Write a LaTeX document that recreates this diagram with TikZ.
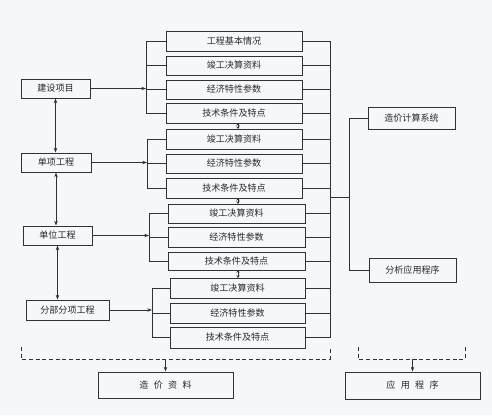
\documentclass[tikz,border=0pt]{standalone}
\usepackage{fontspec}
\newfontfamily\cjk{Noto Sans CJK SC}
\usetikzlibrary{arrows.meta}

\tikzset{every picture/.style={line width=0.75pt}}
\definecolor{linegray}{RGB}{50,50,50}
\definecolor{textgray}{RGB}{40,40,40}
\definecolor{paper}{RGB}{246,247,251}
\tikzset{
  box/.style={draw=linegray, rectangle, inner sep=0pt, text=textgray,
    font=\cjk\fontsize{6.8}{8}\selectfont},
  conn/.style={draw=linegray},
  tip/.style={-{Stealth[length=3.5pt,width=2.6pt]}},
  dtip/.style={{Stealth[length=3.5pt,width=2.6pt]}-{Stealth[length=3.5pt,width=2.6pt]}},
  stip/.style={{Stealth[length=2pt,width=2.6pt]}-{Stealth[length=2pt,width=2.6pt]}},
  dashbr/.style={draw=linegray, dash pattern=on 3pt off 2pt}
}

\begin{document}
\begin{tikzpicture}[x=0.75pt,y=0.75pt,yscale=-1,xscale=1]
  %set diagram size to 492 x 415
  \fill[paper] (0,0) rectangle (492,415);
  \useasboundingbox (0,0) rectangle (492,415);

  %Shape: Rectangle -- left column
  \node[box, minimum width=69*0.75pt, minimum height=19*0.75pt] (jsxm) at (55.5,88.5) {建设项目};
  \node[box, minimum width=70*0.75pt, minimum height=19*0.75pt] (dxgc) at (56,162.5) {单项工程};
  \node[box, minimum width=69*0.75pt, minimum height=19*0.75pt] (dwgc) at (57.5,235.5) {单位工程};
  \node[box, minimum width=83*0.75pt, minimum height=20*0.75pt] (fbfx) at (67.5,310) {分部分项工程};

  %Shape: Rectangle -- group 1
  \node[box, minimum width=136*0.75pt, minimum height=20*0.75pt] (ga1) at (234,41) {工程基本情况};
  \node[box, minimum width=136*0.75pt, minimum height=19*0.75pt] (ga2) at (234,65.5) {竣工决算资料};
  \node[box, minimum width=136*0.75pt, minimum height=19*0.75pt] (ga3) at (234,89.5) {经济特性参数};
  \node[box, minimum width=136*0.75pt, minimum height=20*0.75pt] (ga4) at (234,113) {技术条件及特点};
  %Shape: Rectangle -- group 2
  \node[box, minimum width=136*0.75pt, minimum height=20*0.75pt] (gb1) at (234,139) {竣工决算资料};
  \node[box, minimum width=136*0.75pt, minimum height=19*0.75pt] (gb2) at (234,163.5) {经济特性参数};
  \node[box, minimum width=136*0.75pt, minimum height=20*0.75pt] (gb3) at (234,188) {技术条件及特点};
  %Shape: Rectangle -- group 3
  \node[box, minimum width=137*0.75pt, minimum height=19*0.75pt] (gc1) at (236.5,213.5) {竣工决算资料};
  \node[box, minimum width=137*0.75pt, minimum height=20*0.75pt] (gc2) at (236.5,237) {经济特性参数};
  \node[box, minimum width=137*0.75pt, minimum height=18*0.75pt] (gc3) at (236.5,261) {技术条件及特点};
  %Shape: Rectangle -- group 4
  \node[box, minimum width=135*0.75pt, minimum height=20*0.75pt] (gd1) at (237.5,288) {竣工决算资料};
  \node[box, minimum width=135*0.75pt, minimum height=20*0.75pt] (gd2) at (237.5,313) {经济特性参数};
  \node[box, minimum width=135*0.75pt, minimum height=21*0.75pt] (gd3) at (237.5,337.5) {技术条件及特点};

  %Shape: Rectangle -- right column
  \node[box, minimum width=87*0.75pt, minimum height=22*0.75pt] (zjxt) at (411.5,118) {造价计算系统};
  \node[box, minimum width=87*0.75pt, minimum height=24*0.75pt] (fxcx) at (412.5,270) {分析应用程序};

  %Shape: Rectangle -- bottom
  \node[box, minimum width=135*0.75pt, minimum height=26*0.75pt] (zjzl) at (165.5,385) {造\hspace{4pt}价\hspace{4pt}资\hspace{4pt}料};
  \node[box, minimum width=135*0.75pt, minimum height=27*0.75pt] (yycx) at (412.5,385.5) {应\hspace{4pt}用\hspace{4pt}程\hspace{4pt}序};

  %Straight Lines -- left column arrows
  \draw[conn, dtip] (jsxm.south) -- (jsxm.south |- dxgc.north);
  \draw[conn, dtip] (dxgc.south) -- (dxgc.south |- dwgc.north);
  \draw[conn, dtip] (dwgc.south) -- (dwgc.south |- fbfx.north);

  %Straight Lines -- brackets to groups
  \coordinate (ba) at (146,88.5);
  \coordinate (bb) at (147,162.5);
  \coordinate (bc) at (149,235.5);
  \coordinate (bd) at (152,310);
  \draw[conn, tip] (jsxm.east) -- (ba);
  \draw[conn, tip] (dxgc.east) -- (bb);
  \draw[conn, tip] (dwgc.east) -- (bc);
  \draw[conn, tip] (fbfx.east) -- (bd);
  \draw[conn] (ga1.west) -| (ba |- ga4.west) -- (ga4.west);
  \draw[conn] (ba |- ga2.west) -- (ga2.west);
  \draw[conn] (ba |- ga3.west) -- (ga3.west);
  \draw[conn] (gb1.west) -| (bb |- gb3.west) -- (gb3.west);
  \draw[conn] (bb |- gb2.west) -- (gb2.west);
  \draw[conn] (gc1.west) -| (bc |- gc3.west) -- (gc3.west);
  \draw[conn] (bc |- gc2.west) -- (gc2.west);
  \draw[conn] (gd1.west) -| (bd |- gd3.west) -- (gd3.west);
  \draw[conn] (bd |- gd2.west) -- (gd2.west);

  %Straight Lines -- links between groups
  \draw[conn, stip] (238,123) -- (238,129);
  \draw[conn, stip] (238,198) -- (238,204);
  \draw[conn, stip] (238,270) -- (238,278);

  %Straight Lines -- right collector
  \coordinate (rc) at (330,197);
  \coordinate (rs) at (349,197);
  \draw[conn] (ga1.east) -| (rc |- gd3.east) -- (gd3.east);
  \foreach \n in {ga2,ga3,ga4,gb1,gb2,gb3,gc1,gc2,gc3,gd1,gd2}
    \draw[conn] (\n.east) -- (rc |- \n.east);
  \draw[conn] (rc) -- (rs);
  \draw[conn] (zjxt.west) -| (rs |- fxcx.west) -- (fxcx.west);

  %Dashed brackets -- bottom
  \coordinate (la) at (21,347);
  \coordinate (lb) at (330,347);
  \coordinate (ra) at (358,347);
  \coordinate (rb) at (465,347);
  \draw[dashbr] (la) -- ++(0,12) -| (lb);
  \draw[dashbr] (ra) -- ++(0,12) -| (rb);
  \draw[conn, tip] (zjzl.north |- 0,359) -- (zjzl.north);
  \draw[conn, tip] (yycx.north |- 0,359) -- (yycx.north);

\end{tikzpicture}
\end{document}
